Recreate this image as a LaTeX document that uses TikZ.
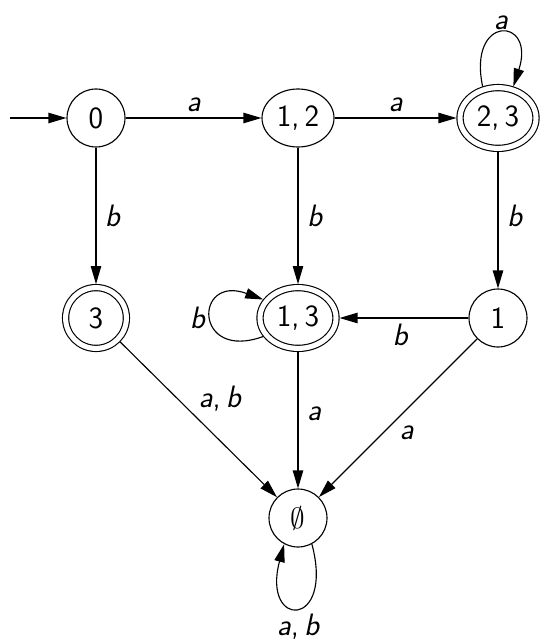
\documentclass[tikz,border=0pt]{standalone}
\usetikzlibrary{arrows.meta,shapes.geometric}
\tikzset{
  st/.style={draw,ellipse,line width=0.8pt,minimum width=#1,minimum height=1.45cm,inner sep=0pt,
             font=\sffamily\fontsize{22}{26}\selectfont},
  st/.default=1.45cm,
  acc/.style={st=#1,double,double distance=3.6pt,minimum height=1.52cm,outer sep=2.5pt},
  acc/.default=1.52cm,
  tr/.style={-{Triangle[length=4.5mm,width=2.6mm]},line width=0.8pt},
  lbl/.style={font=\sffamily\itshape\fontsize{22}{26}\selectfont,inner sep=2pt},
}
\begin{document}
\begin{tikzpicture}
  \useasboundingbox (0,0) rectangle (13.9,-16);
  \node[st]        (s0)  at (2.4,-2.95)   {0};
  \node[st=1.8cm]  (s12) at (7.45,-2.95)  {1,\,2};
  \node[acc=1.9cm] (s23) at (12.45,-2.95) {2,\,3};
  \node[acc]       (s3)  at (2.4,-7.95)   {3};
  \node[acc=1.9cm] (s13) at (7.45,-7.95)  {1,\,3};
  \node[st]        (s1)  at (12.45,-7.95) {1};
  \node[st]        (se)  at (7.45,-12.95) {$\emptyset$};
  \coordinate (init) at (0.25,-2.95);
  % transitions
  \draw[tr] (init) -- (s0);
  \draw[tr] (s0) -- node[lbl,above=2pt]{a} (s12);
  \draw[tr] (s12) -- node[lbl,above=2pt]{a} (s23);
  \draw[tr] (s0) -- node[lbl,right=4pt]{b} (s3);
  \draw[tr] (s12) -- node[lbl,right=4pt]{b} (s13);
  \draw[tr] (s23) -- node[lbl,right=4pt,pos=0.47]{b} (s1);
  \draw[tr] (s1) -- node[lbl,below=2pt,pos=0.53]{b} (s13);
  \draw[tr] (s3) -- node[lbl,anchor=south west,xshift=1pt,pos=0.47]{a{\upshape,}\,b} (se);
  \draw[tr] (s13) -- node[lbl,right=4pt,pos=0.45]{a} (se);
  \draw[tr] (s1) -- node[lbl,below right=1pt,pos=0.52]{a} (se);
  % loops
  \draw[tr] (s23.116) .. controls +(102:1.85) and +(72:1.85) .. node[lbl,above=0pt]{a} (s23.64);
  \draw[tr] (s13.208) .. controls +(200:1.85) and +(160:1.85) .. node[lbl,left=2pt]{b} (s13.152);
  \draw[tr] (se.-62) .. controls +(-75:2.2) and +(-105:2.2) .. node[lbl,below=2pt]{a{\upshape,}\,b} (se.-118);
\end{tikzpicture}
\end{document}
